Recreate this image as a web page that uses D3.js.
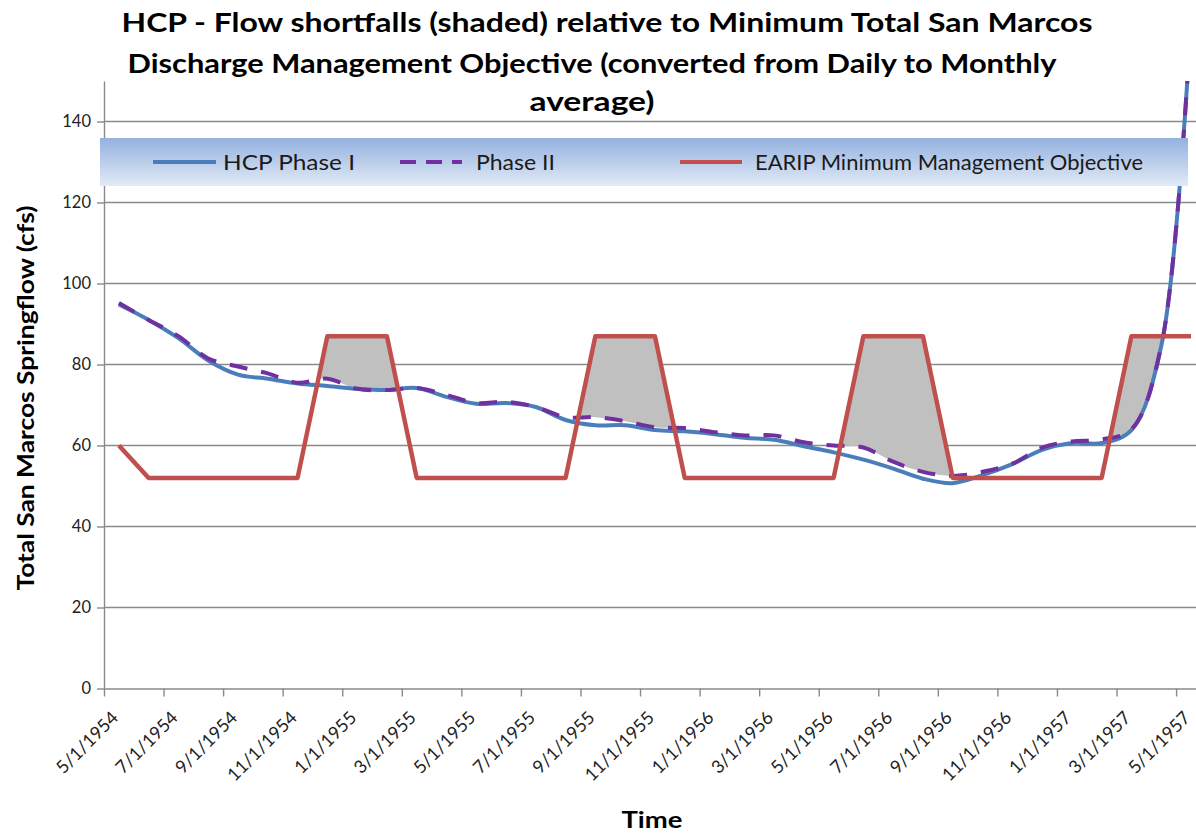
<!DOCTYPE html>
<html>
<head>
<meta charset="utf-8">
<script src="https://cdn.jsdelivr.net/npm/d3@7"></script>
<style>
  body { margin: 0; background: #fff; }
  svg { display: block; }
  text { font-family: Lato, "Open Sans", sans-serif; }
</style>
</head>
<body>
<svg id="chart" width="1196" height="834"></svg>
<script>
// Monthly categories, May 1954 – May 1957
const months = [
  "5/1/1954","6/1/1954","7/1/1954","8/1/1954","9/1/1954","10/1/1954","11/1/1954","12/1/1954",
  "1/1/1955","2/1/1955","3/1/1955","4/1/1955","5/1/1955","6/1/1955","7/1/1955","8/1/1955",
  "9/1/1955","10/1/1955","11/1/1955","12/1/1955","1/1/1956","2/1/1956","3/1/1956","4/1/1956",
  "5/1/1956","6/1/1956","7/1/1956","8/1/1956","9/1/1956","10/1/1956","11/1/1956","12/1/1956",
  "1/1/1957","2/1/1957","3/1/1957","4/1/1957","5/1/1957"
];

// Axis labels shown every second month
const tickLabels = months.filter((d, i) => i % 2 === 0);

// Total San Marcos springflow (cfs)
const hcpPhase1 = [94.8, 91, 86.5, 81, 77.5, 76.5, 75.3, 74.7, 74, 73.7, 74.2, 72, 70.3, 70.5, 69.5, 66.3,
  65, 65, 63.8, 63.5, 62.8, 61.9, 61.4, 59.8, 58.3, 56.5, 54.3, 51.8, 50.7, 52.7, 55.4, 58.9,
  60.6, 60.6, 63.8, 84.5, 165];
const hcpPhase2 = [95.2, 91, 87, 81.5, 79.5, 77.8, 75.5, 76.5, 74, 73.7, 74.2, 72.5, 70.5, 70.8, 69.5, 67,
  67, 66, 64.5, 64.3, 63.3, 62.5, 62.5, 60.8, 60, 59.5, 56, 53.5, 52.5, 53.5, 55.5, 59.5,
  61, 61.5, 64, 84.5, 165];
const earipObjective = [60, 52, 52, 52, 52, 52, 52, 87, 87, 87, 52, 52, 52, 52, 52, 52,
  87, 87, 87, 52, 52, 52, 52, 52, 52, 87, 87, 87, 52, 52, 52, 52,
  52, 52, 87, 87, 87];

const yTicks = [0, 20, 40, 60, 80, 100, 120, 140];

const seriesNames = ["HCP Phase I", "Phase II", "EARIP Minimum Management Objective"];
const titleLines = [
  "HCP - Flow shortfalls (shaded) relative to Minimum  Total San Marcos",
  "Discharge Management Objective (converted from Daily to Monthly",
  "average)"
];

const W = 1196, H = 834;
const plotLeft = 104, plotTop = 81, plotBottom = 688.5;
const bandW = 29.78;

const svg = d3.select("#chart");
const defs = svg.append("defs");

const x = d3.scaleBand().domain(months)
  .range([plotLeft, plotLeft + bandW * months.length]).padding(0);
const xEdge = d3.scaleLinear().domain([0, months.length])
  .range([plotLeft, plotLeft + bandW * months.length]);
const y = d3.scaleLinear().domain([0, 150]).range([plotBottom, plotTop]);
const cx = (i) => x(months[i]) + x.bandwidth() / 2;

// gridlines
svg.append("g").selectAll("line").data(yTicks.filter(d => d > 0)).join("line")
  .attr("x1", plotLeft).attr("x2", W)
  .attr("y1", d => y(d)).attr("y2", d => y(d))
  .attr("stroke", "#8a8a8a").attr("stroke-width", 1.4);

// clip regions
defs.append("clipPath").attr("id", "plotClip").append("rect")
  .attr("x", plotLeft).attr("y", plotTop).attr("width", W - plotLeft).attr("height", plotBottom - plotTop);

const belowRed = d3.area().x((d, i) => cx(i)).y0(y(0)).y1(d => y(d));
defs.append("clipPath").attr("id", "belowRed").append("path")
  .attr("d", belowRed(earipObjective));

const smooth = d3.curveCatmullRom.alpha(0.5);

// shortfall shading: above Phase II and below the objective
const aboveP2 = d3.area().x((d, i) => cx(i)).y0(d => y(d)).y1(plotTop).curve(smooth);
svg.append("g").attr("clip-path", "url(#plotClip)")
  .append("g").attr("clip-path", "url(#belowRed)")
  .append("path").attr("d", aboveP2(hcpPhase2)).attr("fill", "#c0c0c0");

// axes
const yAxis = svg.append("g").attr("transform", `translate(${plotLeft},0)`)
  .call(d3.axisLeft(y).tickValues(yTicks).tickSize(7).tickSizeOuter(0).tickPadding(6));
yAxis.select(".domain").attr("stroke", "#8a8a8a").attr("stroke-width", 1.4);
yAxis.selectAll(".tick line").attr("stroke", "#8a8a8a").attr("stroke-width", 1.4);
yAxis.selectAll(".tick text").attr("font-size", 16.5).attr("fill", "#222")
  .style("font-family", "Lato, sans-serif");

const xAxis = svg.append("g").attr("transform", `translate(0,${plotBottom})`)
  .call(d3.axisBottom(xEdge).tickValues(d3.range(0, months.length + 1, 2))
    .tickSize(8).tickSizeOuter(0).tickFormat(""));
xAxis.select(".domain").attr("stroke", "#8a8a8a").attr("stroke-width", 1.4);
xAxis.selectAll(".tick line").attr("stroke", "#8a8a8a").attr("stroke-width", 1.4);

svg.append("g").selectAll("text").data(tickLabels).join("text")
  .attr("transform", d => `translate(${x(d) + x.bandwidth() / 2 - 4},${plotBottom + 26}) rotate(-45)`)
  .attr("text-anchor", "end").attr("dy", "0.35em")
  .attr("font-size", 18).attr("fill", "#222")
  .text(d => d);

// series lines
const lineSmooth = d3.line().x((d, i) => cx(i)).y(d => y(d)).curve(smooth);
const lineStraight = d3.line().x((d, i) => cx(i)).y(d => y(d));
const plot = svg.append("g").attr("clip-path", "url(#plotClip)");
plot.append("path").attr("d", lineSmooth(hcpPhase1))
  .attr("fill", "none").attr("stroke", "#4a7ebb").attr("stroke-width", 4)
  .attr("stroke-linejoin", "round");
plot.append("path").attr("d", lineSmooth(hcpPhase2))
  .attr("fill", "none").attr("stroke", "#7030a0").attr("stroke-width", 4)
  .attr("stroke-dasharray", "18,14");
plot.append("path").attr("d", lineStraight(earipObjective))
  .attr("fill", "none").attr("stroke", "#c0504d").attr("stroke-width", 4.5)
  .attr("stroke-linejoin", "round");

// legend
const grad = defs.append("linearGradient").attr("id", "legendFill")
  .attr("x1", 0).attr("y1", 0).attr("x2", 0).attr("y2", 1);
grad.append("stop").attr("offset", "0%").attr("stop-color", "#93b1df");
grad.append("stop").attr("offset", "100%").attr("stop-color", "#e2eaf6");
svg.append("rect").attr("x", 100).attr("y", 138).attr("width", 1088).attr("height", 48)
  .attr("fill", "url(#legendFill)");

const legendItems = [
  { name: seriesNames[0], x0: 153, x1: 216, tx: 223, len: 132, color: "#4a7ebb", dash: null },
  { name: seriesNames[1], x0: 400, x1: 462, tx: 476, len: 79, color: "#7030a0", dash: "16,10" },
  { name: seriesNames[2], x0: 680, x1: 742, tx: 755, len: 388, color: "#c0504d", dash: null }
];
const lg = svg.append("g");
legendItems.forEach(it => {
  lg.append("line").attr("x1", it.x0).attr("x2", it.x1).attr("y1", 162).attr("y2", 162)
    .attr("stroke", it.color).attr("stroke-width", 4)
    .attr("stroke-dasharray", it.dash);
  lg.append("text").attr("x", it.tx).attr("y", 170).attr("font-size", 21)
    .attr("fill", "#1a1a1a").attr("textLength", it.len).attr("lengthAdjust", "spacingAndGlyphs")
    .text(it.name);
});

// titles
const titleSpecs = [
  { cx: 607, y: 32, len: 971 },
  { cx: 592, y: 73, len: 929 },
  { cx: 592, y: 111, len: 125 }
];
titleLines.forEach((t, i) => {
  svg.append("text").attr("x", titleSpecs[i].cx).attr("y", titleSpecs[i].y)
    .attr("text-anchor", "middle").attr("font-size", 27).attr("font-weight", "bold")
    .attr("fill", "#000")
    .attr("textLength", titleSpecs[i].len).attr("lengthAdjust", "spacingAndGlyphs")
    .text(t);
});

svg.append("text")
  .attr("transform", "translate(34,398) rotate(-90)")
  .attr("text-anchor", "middle").attr("font-size", 22).attr("font-weight", "bold")
  .attr("textLength", 385).attr("lengthAdjust", "spacingAndGlyphs")
  .text("Total San Marcos Springflow  (cfs)");

svg.append("text").attr("x", 652).attr("y", 828)
  .attr("text-anchor", "middle").attr("font-size", 23).attr("font-weight", "bold")
  .attr("textLength", 61).attr("lengthAdjust", "spacingAndGlyphs")
  .text("Time");
</script>
</body>
</html>
